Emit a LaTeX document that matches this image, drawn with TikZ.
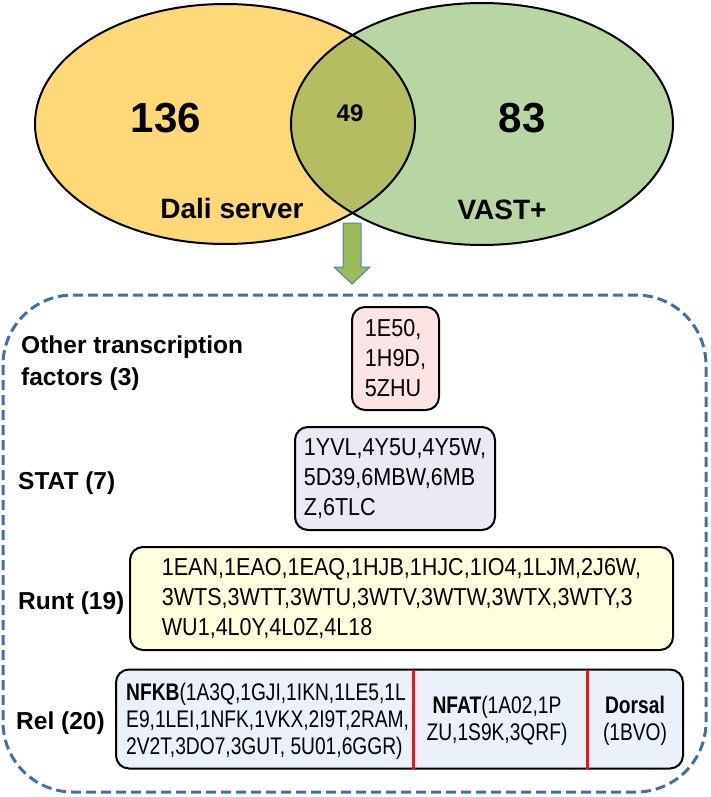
\documentclass[tikz,border=0pt]{standalone}
\usepackage{fontspec}
\setmainfont{Liberation Sans}
\newfontfamily\nrwA{Liberation Sans}[FakeStretch=0.88]
\newfontfamily\nrwB{Liberation Sans}[FakeStretch=0.80]
\definecolor{dyellow}{RGB}{255,217,120}
\definecolor{vgreen}{RGB}{184,214,164}
\definecolor{vover}{RGB}{181,189,98}
\definecolor{arrowfill}{RGB}{155,187,89}
\definecolor{arrowline}{RGB}{79,129,189}
\definecolor{dashblue}{RGB}{65,113,156}
\definecolor{pinkfill}{RGB}{252,228,228}
\definecolor{lavfill}{RGB}{236,232,244}
\definecolor{yelfill}{RGB}{255,255,221}
\definecolor{bluefill}{RGB}{234,241,250}
\definecolor{sepred}{RGB}{240,20,20}
\begin{document}
\begin{tikzpicture}[x=1pt,y=-1pt,
  idbox/.style={draw=black, line width=2pt, rounded corners=13pt, inner ysep=0pt, inner xsep=0pt, align=left, font=\nrwA\fontsize{24.5}{30}\selectfont},
  grouplabel/.style={font=\bfseries\fontsize{24.5}{32}\selectfont, align=left, inner sep=0pt},
  vennnum/.style={font=\bfseries\fontsize{42}{48}\selectfont, inner sep=0pt},
  vennlabel/.style={font=\bfseries\fontsize{28}{32}\selectfont, inner sep=0pt},
  reltext/.style={font=\nrwB\fontsize{24}{27}\selectfont, inner sep=0pt},
  seprule/.style={draw=sepred, line width=3pt},
  venn/.style={line width=2pt, draw=black}
]
\useasboundingbox (0,0) rectangle (710,797);
% Venn diagram
\fill[dyellow] (225,124) ellipse [x radius=190pt, y radius=120pt];
\fill[vgreen] (482,124) ellipse [x radius=191pt, y radius=121pt];
\begin{scope}
\clip (225,124) ellipse [x radius=190pt, y radius=120pt];
\fill[vover] (482,124) ellipse [x radius=191pt, y radius=121pt];
\end{scope}
\draw[venn] (225,124) ellipse [x radius=190pt, y radius=120pt];
\draw[venn] (482,124) ellipse [x radius=191pt, y radius=121pt];
\node[vennnum] (n136) at (166,118) {136};
\node[vennnum, font=\bfseries\fontsize{24}{28}\selectfont] (n49) at (350,113) {49};
\node[vennnum] (n83) at (522,118) {83};
\node[vennlabel] (dali) at (232,208) {Dali server};
\node[vennlabel] (vast) at (502,210) {VAST+};
% block arrow
\draw[draw=arrowline, fill=arrowfill, line width=1pt] (343,223) -- (361,223) -- (361,267) -- (370,267) -- (352,284) -- (334,267) -- (343,267) -- cycle;
% dashed container
\draw[dashblue, line width=3pt, dash pattern=on 10pt off 5pt, rounded corners=70pt] (3,295) rectangle (706,792);
% group labels
\node[grouplabel, anchor=west] (lother) at (21,363) {Other transcription\\factors (3)};
\node[grouplabel, anchor=west] (lstat) at (18,483) {STAT (7)};
\node[grouplabel, anchor=west] (lrunt) at (18,603) {Runt (19)};
\node[grouplabel, anchor=west] (lrel) at (16,723) {Rel (20)};
% id boxes
\node[idbox, fill=pinkfill, minimum width=87pt, minimum height=103pt] (other) at (395.5,358.5) {1E50,\\1H9D,\\5ZHU};
\node[idbox, fill=lavfill, minimum width=200pt, minimum height=103pt] (stat) at (395,478.5) {1YVL,4Y5U,4Y5W,\\5D39,6MBW,6MB\\Z,6TLC};
\node[idbox, fill=yelfill, minimum width=543pt, minimum height=103pt] (runt) at (401.5,598.5) {1EAN,1EAO,1EAQ,1HJB,1HJC,1IO4,1LJM,2J6W,\\3WTS,3WTT,3WTU,3WTV,3WTW,3WTX,3WTY,3\\WU1,4L0Y,4L0Z,4L18};
\node[draw=black, line width=2pt, rounded corners=13pt, fill=bluefill, minimum width=567pt, minimum height=99pt, inner sep=0pt] (rel) at (399.5,719) {};
\coordinate (cut1) at (413,719);
\coordinate (cut2) at (587,719);
\draw[seprule] ([yshift=-1pt]rel.north -| cut1) -- ([yshift=1pt]rel.south -| cut1);
\draw[seprule] ([yshift=-1pt]rel.north -| cut2) -- ([yshift=1pt]rel.south -| cut2);
\node[reltext, align=left, anchor=west] (nfkb) at (126,721) {\textbf{NFKB}(1A3Q,1GJI,1IKN,1LE5,1L\\E9,1LEI,1NFK,1VKX,2I9T,2RAM,\\2V2T,3DO7,3GUT, 5U01,6GGR)};
\node[reltext, align=center] (nfat) at (497,721) {\textbf{NFAT}(1A02,1P\\ZU,1S9K,3QRF)};
\node[reltext, align=center] (dorsal) at (635,721) {\textbf{Dorsal}\\(1BVO)};
\end{tikzpicture}
\end{document}
